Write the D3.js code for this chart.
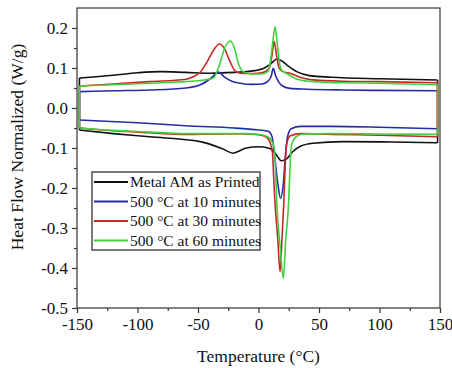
<!DOCTYPE html>
<html>
<head>
<meta charset="utf-8">
<script src="https://cdn.jsdelivr.net/npm/d3@7"></script>
<style>
  html, body { margin: 0; padding: 0; background: #fff; }
  svg { display: block; }
  text { font-family: "Liberation Serif", "Times New Roman", serif; fill: #111; }
</style>
</head>
<body>
<svg id="chart" width="452" height="368"></svg>
<script>
// ---------- data (temperature °C, heat flow W/g) ----------
const seriesNames = ["Metal AM as Printed", "500 °C at 10 minutes", "500 °C at 30 minutes", "500 °C at 60 minutes"];
const seriesColors = ["#111111", "#2a2aa6", "#c42a24", "#3fd23f"];

const printedHeat = [[-148,0.075],[-120,0.082],[-100,0.088],[-81,0.091],[-60,0.089],[-40,0.087],[-20,0.089],[-10,0.091],[4,0.099],[10,0.11],[15,0.122],[19,0.118],[23.3,0.108],[31.6,0.091],[42,0.081],[60,0.077],[100,0.073],[148,0.07]];
const printedCool = [[-148,-0.055],[-120,-0.064],[-90,-0.072],[-48,-0.084],[-29,-0.103],[-21,-0.113],[-15,-0.106],[-10,-0.1],[0,-0.097],[8,-0.1],[12,-0.106],[15,-0.118],[19,-0.132],[23,-0.128],[28,-0.11],[35,-0.095],[45,-0.088],[70,-0.084],[110,-0.085],[148,-0.087]];

const min10Heat = [[-148,0.041],[-120,0.043],[-90,0.045],[-60,0.05],[-48,0.058],[-39,0.075],[-33,0.09],[-28,0.077],[-22,0.067],[-15,0.062],[-5,0.059],[3,0.06],[8,0.067],[10.5,0.08],[12.2,0.099],[14,0.082],[16.5,0.066],[20,0.055],[26,0.049],[40,0.047],[70,0.045],[100,0.044],[148,0.043]];
const min10Cool = [[-148,-0.03],[-100,-0.037],[-57,-0.045],[-20,-0.05],[0,-0.055],[8,-0.058],[11,-0.07],[13,-0.11],[16,-0.19],[18.3,-0.226],[20.5,-0.19],[22.5,-0.11],[24,-0.072],[27,-0.052],[35,-0.046],[60,-0.046],[100,-0.048],[148,-0.052]];

const min30Heat = [[-148,0.055],[-120,0.06],[-90,0.066],[-60,0.072],[-54,0.078],[-48,0.09],[-42,0.118],[-37,0.145],[-32.4,0.16],[-28,0.148],[-23.5,0.116],[-19.4,0.093],[-15,0.087],[-5,0.086],[4,0.089],[9,0.1],[11,0.13],[13,0.166],[15,0.13],[17,0.1],[21,0.09],[26,0.087],[35,0.076],[42.5,0.071],[70,0.067],[100,0.066],[148,0.063]];
const min30Cool = [[-148,-0.05],[-120,-0.057],[-90,-0.062],[-60,-0.066],[-30,-0.065],[-10,-0.065],[0,-0.067],[6,-0.072],[9,-0.082],[11.5,-0.11],[12.5,-0.17],[13.5,-0.23],[16,-0.33],[17.8,-0.409],[19.5,-0.32],[21,-0.23],[22,-0.15],[23.3,-0.09],[26,-0.07],[35,-0.064],[60,-0.066],[100,-0.068],[148,-0.072]];

const min60Heat = [[-148,0.055],[-120,0.058],[-90,0.062],[-60,0.066],[-45,0.07],[-37.3,0.075],[-31.8,0.112],[-28.5,0.145],[-23.3,0.1675],[-19.4,0.145],[-16.7,0.112],[-12.6,0.091],[-5,0.085],[3,0.085],[8,0.092],[10,0.12],[12,0.17],[13.6,0.203],[15.2,0.17],[17,0.12],[19,0.095],[24,0.085],[32,0.072],[45,0.066],[70,0.063],[100,0.062],[148,0.058]];
const min60Cool = [[-148,-0.05],[-120,-0.056],[-90,-0.06],[-60,-0.064],[-30,-0.064],[-10,-0.064],[0,-0.066],[6,-0.07],[10,-0.078],[13,-0.1],[14,-0.15],[15,-0.23],[18,-0.35],[20.5,-0.426],[22.5,-0.33],[25,-0.23],[26,-0.15],[27.5,-0.09],[31,-0.072],[37,-0.065],[60,-0.064],[100,-0.065],[148,-0.066]];

const xTicks = [-150, -100, -50, 0, 50, 100, 150];
const yTicks = [-0.5, -0.4, -0.3, -0.2, -0.1, 0.0, 0.1, 0.2];
const xTitle = "Temperature (°C)";
const yTitle = "Heat Flow Normalized (W/g)";

// ---------- layout ----------
const svg = d3.select("#chart");
const L = 77, R = 440, T = 8, B = 308;
const x = d3.scaleLinear().domain([-150, 150]).range([L, R]);
const y = d3.scaleLinear().domain([-0.5, 0.25]).range([B, T]);

const series = [
  { heat: printedHeat, cool: printedCool },
  { heat: min10Heat, cool: min10Cool },
  { heat: min30Heat, cool: min30Cool },
  { heat: min60Heat, cool: min60Cool }
];

// frame
svg.append("rect").attr("x", L).attr("y", T).attr("width", R - L).attr("height", B - T)
  .attr("fill", "none").attr("stroke", "#333").attr("stroke-width", 1.2);

// curves
const line = d3.line().x(d => x(d[0])).y(d => y(d[1])).curve(d3.curveMonotoneX);
const seg = d3.line().x(d => x(d[0])).y(d => y(d[1]));
const g = svg.append("g");
series.forEach((s, i) => {
  const sg = g.append("g").attr("fill", "none").attr("stroke", seriesColors[i]).attr("stroke-width", 1.6);
  sg.append("path").attr("d", line(s.heat));
  sg.append("path").attr("d", line(s.cool));
  sg.append("path").attr("d", seg([s.heat[0], s.cool[0]]));
  sg.append("path").attr("d", seg([s.heat[s.heat.length - 1], s.cool[s.cool.length - 1]]));
});

// axes
const fs = "17px";
const hy = s => s.replace("\u2212", "-");
const xAxis = svg.append("g").attr("transform", `translate(0,${B})`)
  .call(d3.axisBottom(x).tickValues(xTicks).tickSize(5).tickPadding(5).tickFormat(d => hy(d3.format("d")(d))));
const xMinor = svg.append("g").attr("transform", `translate(0,${B})`)
  .call(d3.axisBottom(x).tickValues(d3.range(-125, 150, 50)).tickSize(3).tickFormat(""));
const yAxis = svg.append("g").attr("transform", `translate(${L},0)`)
  .call(d3.axisLeft(y).tickValues(yTicks).tickSize(5).tickPadding(4).tickFormat(d => hy(d3.format(".1f")(d))));
const yMinor = svg.append("g").attr("transform", `translate(${L},0)`)
  .call(d3.axisLeft(y).tickValues([-0.45, -0.35, -0.25, -0.15, -0.05, 0.05, 0.15]).tickSize(3).tickFormat(""));
[xAxis, xMinor, yAxis, yMinor].forEach(a => {
  a.select(".domain").remove();
  a.selectAll(".tick line").attr("stroke", "#333").attr("stroke-width", 1.2);
  a.selectAll("text").style("font-size", fs).style("font-family", '"Liberation Serif", serif').attr("fill", "#111");
});

// titles
svg.append("text").attr("x", (L + R) / 2).attr("y", 362).attr("text-anchor", "middle")
  .style("font-size", "17.5px").text(xTitle);
svg.append("text").attr("transform", `translate(23,147) rotate(-90)`).attr("text-anchor", "middle")
  .style("font-size", "17.5px").text(yTitle);

// legend
const lg = svg.append("g");
lg.append("rect").attr("x", 92).attr("y", 172).attr("width", 168).attr("height", 78)
  .attr("fill", "#fff").attr("stroke", "#222").attr("stroke-width", 1.2);
seriesNames.forEach((name, i) => {
  const yy = 182 + i * 19.5;
  lg.append("line").attr("x1", 94).attr("x2", 128).attr("y1", yy).attr("y2", yy)
    .attr("stroke", seriesColors[i]).attr("stroke-width", 1.8);
  lg.append("text").attr("x", 130).attr("y", yy + 5).style("font-size", "15.5px").text(name);
});
</script>
</body>
</html>
